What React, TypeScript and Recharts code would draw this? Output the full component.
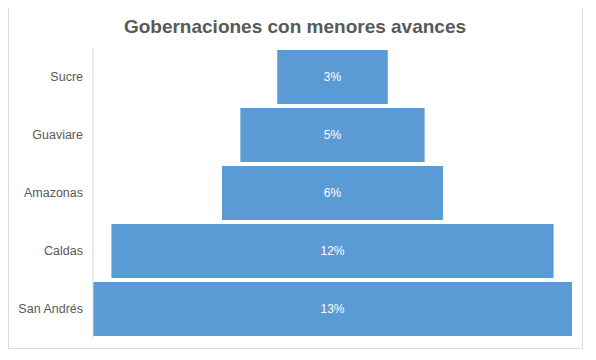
import React from "react";
import { BarChart, Bar, XAxis, YAxis, LabelList } from "recharts";

const categories = ["Sucre", "Guaviare", "Amazonas", "Caldas", "San Andrés"];
const values = [3, 5, 6, 12, 13];
const maxValue = 13;

const data = categories.map((name, i) => ({
  name,
  value: values[i],
  offset: (maxValue - values[i]) / 2,
}));

const FONT = "'Liberation Sans', 'DejaVu Sans', sans-serif";

export default function App() {
  return (
    <div style={{ position: "relative", width: 596, height: 360, margin: -8, background: "#fff", fontFamily: FONT }}>
      <div
        style={{
          position: "absolute",
          left: 8,
          top: 5,
          width: 575,
          height: 344,
          border: "1px solid #d9d9d9",
          boxSizing: "border-box",
        }}
      />
      <div
        style={{
          position: "absolute",
          left: 0,
          top: 16,
          width: 590,
          textAlign: "center",
          fontSize: 19,
          fontWeight: "bold",
          color: "#595959",
        }}
      >
        Gobernaciones con menores avances
      </div>
      <div style={{ position: "absolute", left: 0, top: 0 }}>
        <BarChart
          width={596}
          height={360}
          data={data}
          layout="vertical"
          margin={{ top: 48, right: 24, bottom: 22, left: 0 }}
          barCategoryGap={2}
        >
          <XAxis type="number" domain={[0, maxValue]} hide />
          <YAxis
            type="category"
            dataKey="name"
            width={93}
            tickLine={false}
            axisLine={{ stroke: "#d9d9d9" }}
            tickMargin={4}
            tick={{ fill: "#595959", fontSize: 12.5, fontFamily: FONT }}
          />
          <Bar dataKey="offset" stackId="a" fill="transparent" isAnimationActive={false} />
          <Bar dataKey="value" stackId="a" fill="#5b9bd5" isAnimationActive={false}>
            <LabelList
              dataKey="value"
              position="center"
              formatter={(v: number) => `${v}%`}
              fill="#ffffff"
              style={{ fontSize: 12, fontFamily: FONT }}
            />
          </Bar>
        </BarChart>
      </div>
    </div>
  );
}
